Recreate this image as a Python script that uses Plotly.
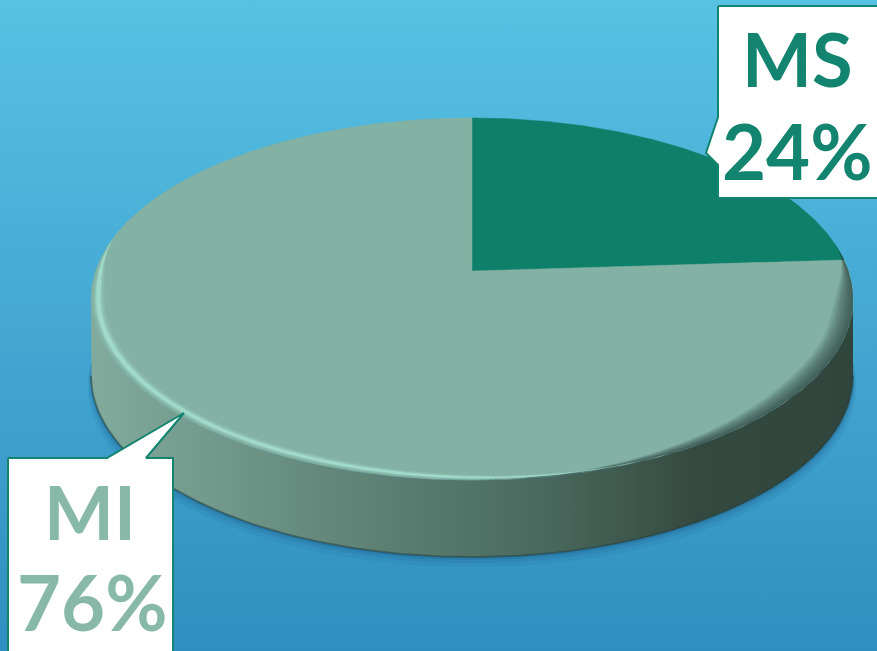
import numpy as np
import plotly.graph_objects as go

# Share of each category
labels = ["MS", "MI"]
values = [24, 76]
slice_colors = ["#0e8069", "#83b1a3"]
label_colors = ["#12846f", "#88b9a8"]

W, H = 877, 651

# Perspective disc: projected centre, half-axes and tilt factor
CX, CY = 472, 271
A, B, K = 376.4, 176.7, 0.1547
DEPTH = 77


def proj(theta_deg, dy=0.0, r=1.0):
    t = np.radians(np.asarray(theta_deg, dtype=float))
    u, v = r * np.sin(t), r * np.cos(t)
    w = 1 + K * v
    return CX + A * u / w, CY - B * v / w + dy


def rim_band(lo, hi, r_out, r_in, taper_lo, taper_hi, n=200):
    """Closed polygon between two rim radii, tapering to nothing at both ends."""
    th = np.linspace(lo, hi, n)
    f = np.clip((th - lo) / taper_lo, 0, 1) * np.clip((hi - th) / taper_hi, 0, 1)
    f = f * f * (3 - 2 * f)
    ro = 1 - (1 - r_out) * f
    ri = ro - (r_out - r_in) * f
    ox, oy = proj(th, r=ro)
    ix, iy = proj(th[::-1], r=ri[::-1])
    return np.concatenate([ox, ix, ox[:1]]), np.concatenate([oy, iy, oy[:1]])


fig = go.Figure()

# Background gradient
fig.add_trace(go.Scatter(
    x=[0, W, W, 0, 0], y=[0, 0, H, H, 0], mode="lines", fill="toself",
    line=dict(width=0),
    fillgradient=dict(type="vertical",
                      colorscale=[[0, "#2f8fc0"], [0.5, "#44a8d3"], [1, "#57c2e2"]]),
    hoverinfo="skip", showlegend=False))

# Soft shadow below the disc
th_all = np.linspace(0, 360, 241)
for off, alpha in [(10, 0.07), (6, 0.09), (3, 0.12)]:
    sx, sy = proj(th_all, DEPTH + off)
    sx = CX + (sx - CX) * (1 + off / 3 / A)
    fig.add_trace(go.Scatter(x=sx, y=sy, mode="lines", fill="toself",
                             line=dict(width=0), fillcolor=f"rgba(15,55,95,{alpha})",
                             hoverinfo="skip", showlegend=False))

# Side wall of the disc (visible front half)
t_ext = np.degrees(np.arccos(-K))
front = np.linspace(t_ext, 360 - t_ext, 161)
tx, ty = proj(front)
bx, by = proj(front[::-1], DEPTH)
fig.add_trace(go.Scatter(
    x=np.concatenate([tx, bx, tx[:1]]), y=np.concatenate([ty, by, ty[:1]]),
    mode="lines", fill="toself", line=dict(width=0),
    fillgradient=dict(type="horizontal",
                      colorscale=[[0, "#82ab9d"], [0.3, "#64897c"],
                                  [0.6, "#49685d"], [0.8, "#34493f"], [1, "#30453c"]]),
    hoverinfo="skip", showlegend=False))
# darker lower edge of the wall
lx, ly = proj(front, DEPTH)
fig.add_trace(go.Scatter(x=lx, y=ly, mode="lines",
                         line=dict(width=2, color="rgba(35,60,55,0.5)"),
                         hoverinfo="skip", showlegend=False))

# Top face slices, clockwise from 12 o'clock
total = sum(values)
start = 0.0
for lab, val, col in zip(labels, values, slice_colors):
    end = start + 360.0 * val / total
    arc = np.linspace(start, end, max(int(end - start) * 2, 8))
    ax_, ay_ = proj(arc)
    px = np.concatenate([[CX], ax_, [CX]])
    py = np.concatenate([[CY], ay_, [CY]])
    fig.add_trace(go.Scatter(x=px, y=py, mode="lines", fill="toself",
                             fillcolor=col, line=dict(width=0.5, color=col),
                             name=lab, hoverinfo="skip", showlegend=False))
    start = end

# Dark shading along the right-hand rim (many faint bands give a soft edge)
for r_in in np.linspace(0.95, 0.995, 10):
    sx, sy = rim_band(t_ext - 18, 178, 1.0, r_in, 22, 55)
    fig.add_trace(go.Scatter(x=sx, y=sy, mode="lines", fill="toself",
                             line=dict(width=0), fillcolor="rgba(38,62,54,0.1)",
                             hoverinfo="skip", showlegend=False))

# Light bevel along the front-left rim
for r_out, r_in, alpha in [(0.994, 0.966, 0.2), (0.99, 0.972, 0.3), (0.987, 0.976, 0.6)]:
    sx, sy = rim_band(150, 284, r_out, r_in, 55, 22)
    fig.add_trace(go.Scatter(x=sx, y=sy, mode="lines", fill="toself",
                             line=dict(width=0), fillcolor=f"rgba(170,230,212,{alpha})",
                             hoverinfo="skip", showlegend=False))

# Callout boxes
callouts = [
    ([718, 900, 900, 718, 718, 706, 718, 718], [6, 6, 198, 198, 165, 153, 117, 6]),
    ([8, 107, 184, 146, 173, 173, 8, 8], [458, 458, 413, 458, 458, 680, 680, 458]),
]
for bxs, bys in callouts:
    fig.add_trace(go.Scatter(x=bxs, y=bys, mode="lines", fill="toself",
                             fillcolor="#ffffff", line=dict(width=2, color="#12846f"),
                             hoverinfo="skip", showlegend=False))

label_pos = {"MS": ((797, 58), (797, 150)), "MI": ((90, 511), (92, 601))}
annotations = []
for lab, val, col in zip(labels, values, label_colors):
    (x1, y1), (x2, y2) = label_pos[lab]
    annotations.append(dict(x=x1, y=y1, text=f"<b>{lab}</b>", showarrow=False,
                            xref="x", yref="y", xanchor="center", yanchor="middle",
                            font=dict(family="Lato", size=74, color=col)))
    annotations.append(dict(x=x2, y=y2, text=f"<b>{val}%</b>", showarrow=False,
                            xref="x", yref="y", xanchor="center", yanchor="middle",
                            font=dict(family="Lato", size=76, color=col)))

fig.update_layout(
    width=W, height=H, margin=dict(l=0, r=0, t=0, b=0),
    paper_bgcolor="#45a8d4", plot_bgcolor="#45a8d4",
    xaxis=dict(range=[0, W], visible=False, fixedrange=True),
    yaxis=dict(range=[H, 0], visible=False, fixedrange=True),
    annotations=annotations, showlegend=False,
)

fig.write_html("out.html")
